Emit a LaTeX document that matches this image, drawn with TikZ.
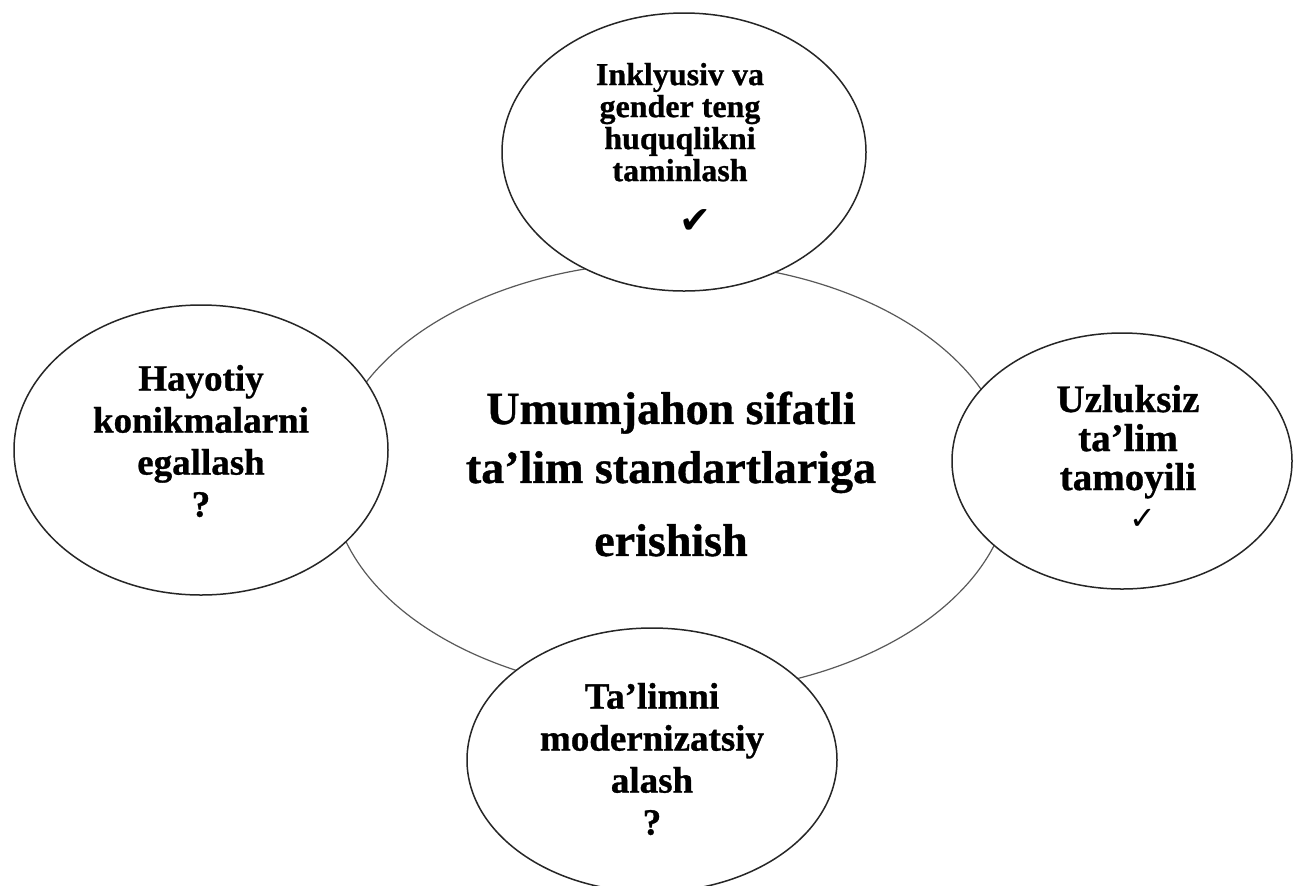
\documentclass[tikz,border=0pt]{standalone}
\usepackage{fontspec}
\setmainfont{Liberation Serif}[BoldFeatures={FakeBold=0.8}]
\newfontfamily\symfont{DejaVu Sans}
\usetikzlibrary{shapes.geometric}
\begin{document}
\begin{tikzpicture}[x=0.5pt,y=-0.5pt,
  mainell/.style={ellipse, draw=black!65, line width=0.6pt, fill=white, inner sep=0},
  subell/.style={ellipse, draw=black!85, line width=0.75pt, fill=white, inner sep=0},
  lbl/.style={align=center, inner sep=0, text=black}]
\useasboundingbox (0,0) rectangle (1295,885);
\clip (0,0) rectangle (1295,885);
\fill[white] (0,0) rectangle (1295,885);
% central ellipse
\node[mainell, minimum width=340pt, minimum height=216pt] (c) at (671,478) {};
% satellite ellipses
\node[subell, minimum width=182pt, minimum height=139pt] (top) at (684,152) {};
\node[subell, minimum width=187pt, minimum height=145pt] (left) at (201,450) {};
\node[subell, minimum width=170pt, minimum height=128pt] (right) at (1122,461) {};
\node[subell, minimum width=185pt, minimum height=132pt] (bottom) at (652,760) {};
% texts
\node[lbl, font=\bfseries\fontsize{23}{29.5}\selectfont] (ct) at (671,474)
  {Umumjahon sifatli\\ta’lim standartlariga\\[7pt]erishish};
\node[lbl, font=\bfseries\fontsize{16}{16}\selectfont] (tt) at (680,148)
  {Inklyusiv va\\gender teng\\huquqlikni\\taminlash\\[10pt]\hspace*{15pt}{\symfont\fontsize{19}{16}\selectfont ✔}};
\node[lbl, font=\bfseries\fontsize{18.5}{21}\selectfont] (lt) at (201,441)
  {Hayotiy\\konikmalarni\\egallash\\?};
\node[lbl, font=\bfseries\fontsize{19.5}{19.5}\selectfont] (rt) at (1128,457)
  {Uzluksiz\\ta’lim\\tamoyili\\\hspace*{15pt}{\symfont\fontsize{16}{15}\selectfont ✓}};
\node[lbl, font=\bfseries\fontsize{18.5}{21}\selectfont] (bt) at (652,759)
  {Ta’limni\\modernizatsiy\\alash\\?};
\end{tikzpicture}
\end{document}
